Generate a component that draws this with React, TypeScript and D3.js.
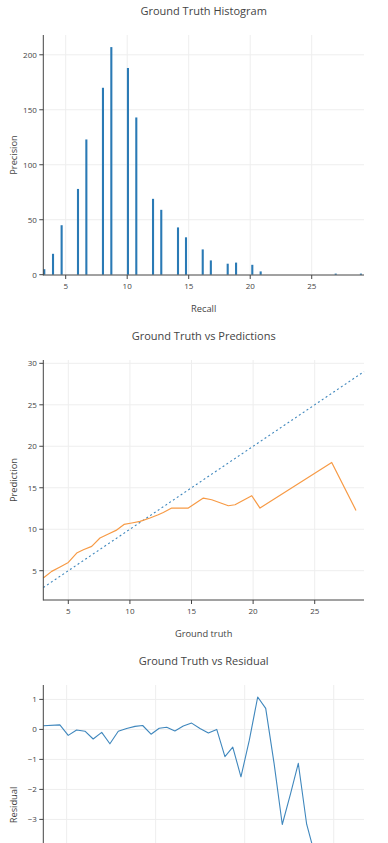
import React from 'react';
import * as d3 from 'd3';

// histogram bins (centre of bin) and their counts
const histCenters = [3.26, 3.97, 4.67, 6.0, 6.68, 8.03, 8.71, 10.06, 10.74, 12.1, 12.77, 14.13, 14.78, 16.14, 16.8, 18.17, 18.85, 20.17, 20.85, 26.95, 29.0];
const histCounts = [5, 19, 45, 78, 123, 170, 207, 188, 143, 69, 59, 43, 34, 23, 13, 10, 11, 9, 3, 1, 1];
const histBinWidth = 0.17;

// ground truth vs predictions
const predTruth = [2.97, 3.65, 4.33, 5.0, 5.68, 6.22, 6.9, 7.57, 8.25, 8.87, 9.52, 10.15, 10.82, 11.63, 12.3, 12.71, 13.39, 14.74, 15.96, 16.64, 17.99, 18.53, 19.89, 20.56, 26.38, 28.35];
const predValues = [4.12, 4.92, 5.45, 6.0, 7.13, 7.53, 7.93, 8.94, 9.42, 9.86, 10.58, 10.75, 10.94, 11.35, 11.75, 12.02, 12.55, 12.55, 13.76, 13.55, 12.83, 12.95, 14.04, 12.55, 18.05, 12.27];
const idealLine = [2.97, 29.0];

// ground truth vs residual
const resTruth = [3.69, 4.62, 5.09, 5.56, 6.03, 6.49, 6.97, 7.43, 7.9, 8.37, 8.84, 9.27, 9.74, 10.2, 10.62, 11.08, 11.55, 12.02, 12.49, 12.96, 13.43, 13.89, 14.33, 14.79, 15.26, 15.73, 16.18, 16.65, 17.11, 17.58, 18.01, 18.48, 18.95, 19.42, 19.89, 20.35, 20.82, 21.29, 21.7];
const resValues = [0.12, 0.15, -0.2, -0.02, -0.06, -0.32, -0.1, -0.48, -0.06, 0.03, 0.1, 0.13, -0.16, 0.04, 0.07, -0.05, 0.11, 0.21, 0.03, -0.12, 0.0, -0.91, -0.59, -1.58, -0.36, 1.08, 0.7, -1.13, -3.17, -2.13, -1.13, -3.16, -4.2, -4.9, -5.6, -5.1, -6.1, -5.4, -5.8];

const histXTicks = [5, 10, 15, 20, 25];
const histYTicks = [0, 50, 100, 150, 200];
const predXTicks = [5, 10, 15, 20, 25];
const predYTicks = [5, 10, 15, 20, 25, 30];
const resXTicks = [5, 10, 15, 20];
const resYTicks = [-3, -2, -1, 0, 1];

const FONT = '"Open Sans", sans-serif';
const TEXT = '#444';
const LEFT = 43.3;
const RIGHT = 364;
const TOP = 35;
const PLOT_H = 240;
const PANEL = 325;
const PAGE_H = 843;

type PanelProps = {
  offset: number;
  title: string;
  xLabel: string;
  yLabel: string;
  x: d3.ScaleLinear<number, number>;
  y: d3.ScaleLinear<number, number>;
  xTicks: number[];
  yTicks: number[];
  children?: React.ReactNode;
};

function Panel({ offset, title, xLabel, yLabel, x, y, xTicks, yTicks, children }: PanelProps) {
  const bottom = TOP + PLOT_H;
  const fmt = d3.format('');
  // the last panel runs past the page, skip its x axis text
  const showX = offset + bottom + 40 < PAGE_H;
  return (
    <g transform={`translate(0,${offset})`} fontFamily={FONT} fill={TEXT}>
      <text x={(LEFT + RIGHT) / 2} y={15.3} textAnchor="middle" fontSize={11}>{title}</text>
      {xTicks.map(t => (
        <line key={'gx' + t} x1={x(t)} x2={x(t)} y1={TOP} y2={bottom} stroke="#eee" strokeWidth={1} />
      ))}
      {yTicks.filter(t => y(t) > TOP - 0.5 && y(t) < bottom - 1).map(t => (
        <line key={'gy' + t} x1={LEFT} x2={RIGHT} y1={y(t)} y2={y(t)} stroke="#eee" strokeWidth={1} />
      ))}
      <g>{children}</g>
      <line x1={LEFT} x2={LEFT} y1={TOP} y2={bottom + 0.5} stroke={TEXT} strokeWidth={1} />
      <line x1={LEFT} x2={RIGHT} y1={bottom} y2={bottom} stroke={TEXT} strokeWidth={1} />
      {yTicks.filter(t => y(t) >= TOP && y(t) <= bottom + 1).map(t => (
        <g key={'ty' + t}>
          <line x1={LEFT - 4} x2={LEFT} y1={y(t)} y2={y(t)} stroke={TEXT} strokeWidth={1} />
          <text x={LEFT - 6.5} y={y(t)} dy="0.35em" textAnchor="end" fontSize={8}>{fmt(t)}</text>
        </g>
      ))}
      {showX && xTicks.map(t => (
        <g key={'tx' + t}>
          <line x1={x(t)} x2={x(t)} y1={bottom} y2={bottom + 4} stroke={TEXT} strokeWidth={1} />
          <text x={x(t)} y={bottom + 11.5} dy="0.35em" textAnchor="middle" fontSize={8}>{fmt(t)}</text>
        </g>
      ))}
      {showX && (
        <text x={(LEFT + RIGHT) / 2} y={bottom + 34} dy="0.35em" textAnchor="middle" fontSize={9.3}>{xLabel}</text>
      )}
      <text transform={`translate(13.5,${TOP + PLOT_H / 2}) rotate(-90)`} dy="0.35em" textAnchor="middle" fontSize={9.3}>{yLabel}</text>
    </g>
  );
}

export default function App() {
  const bottom = TOP + PLOT_H;

  const hx = d3.scaleLinear().domain([3.18, 29.25]).range([LEFT, RIGHT]);
  const hy = d3.scaleLinear().domain([0, 218]).range([bottom - 0.3, TOP]);

  const px = d3.scaleLinear().domain([2.97, 29.0]).range([LEFT, RIGHT]);
  const py = d3.scaleLinear().domain([1.47, 30.4]).range([bottom, TOP]);

  const rx = d3.scaleLinear().domain([3.69, 21.7]).range([LEFT, RIGHT]);
  const ry = d3.scaleLinear().domain([-6.52, 1.48]).range([bottom, TOP]);

  const predLine = d3.line<number>().x((d, i) => px(predTruth[i])).y(d => py(d));
  const idealPath = d3.line<number>().x(d => px(d)).y(d => py(d));
  const resLine = d3.line<number>().x((d, i) => rx(resTruth[i])).y(d => ry(d));

  return (
    <svg width={388} height={PAGE_H} style={{ position: 'absolute', left: 0, top: 0, background: '#fff' }}>
      <Panel offset={0} title="Ground Truth Histogram" xLabel="Recall" yLabel="Precision"
        x={hx} y={hy} xTicks={histXTicks} yTicks={histYTicks}>
        {histCenters.map((c, i) => (
          <rect key={i} x={hx(c - histBinWidth / 2)} width={hx(c + histBinWidth / 2) - hx(c - histBinWidth / 2)}
            y={hy(histCounts[i])} height={hy(0) - hy(histCounts[i])} fill="#2a7ab5" />
        ))}
      </Panel>
      <Panel offset={PANEL} title="Ground Truth vs Predictions" xLabel="Ground truth" yLabel="Prediction"
        x={px} y={py} xTicks={predXTicks} yTicks={predYTicks}>
        <path d={idealPath(idealLine) || ''} fill="none" stroke="#3f87bd" strokeWidth={1.1} strokeDasharray="2,2.6" />
        <path d={predLine(predValues) || ''} fill="none" stroke="#f79a45" strokeWidth={1.2} strokeLinejoin="round" />
      </Panel>
      <Panel offset={PANEL * 2} title="Ground Truth vs Residual" xLabel="Ground truth" yLabel="Residual"
        x={rx} y={ry} xTicks={resXTicks} yTicks={resYTicks}>
        <path d={resLine(resValues) || ''} fill="none" stroke="#3f87bd" strokeWidth={1.1} strokeLinejoin="round" />
      </Panel>
    </svg>
  );
}
